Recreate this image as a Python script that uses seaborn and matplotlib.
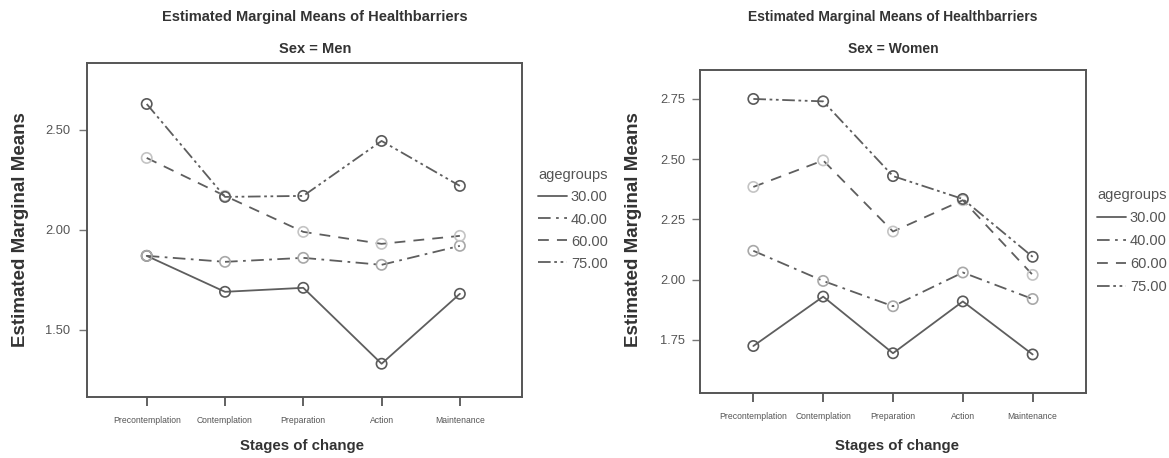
import matplotlib
matplotlib.use("Agg")
import matplotlib.pyplot as plt
from matplotlib.lines import Line2D
import numpy as np
import pandas as pd
import seaborn as sns

# Stages of change (x categories) and age groups
stages = ["Precontemplation", "Contemplation", "Preparation", "Action", "Maintenance"]
agegroups = ["30.00", "40.00", "60.00", "75.00"]

# Estimated marginal means, men
men_30 = [1.87, 1.69, 1.71, 1.33, 1.68]
men_40 = [1.87, 1.84, 1.86, 1.825, 1.92]
men_60 = [2.36, 2.17, 1.99, 1.93, 1.97]
men_75 = [2.63, 2.165, 2.17, 2.445, 2.22]

# Estimated marginal means, women
women_30 = [1.725, 1.93, 1.695, 1.91, 1.69]
women_40 = [2.12, 1.995, 1.89, 2.03, 1.92]
women_60 = [2.385, 2.495, 2.20, 2.33, 2.02]
women_75 = [2.75, 2.74, 2.43, 2.335, 2.095]

men_ticks = [1.50, 2.00, 2.50]
women_ticks = [1.75, 2.00, 2.25, 2.50, 2.75]

sns.set_theme(style="white")
plt.rcParams["font.family"] = ["Liberation Sans", "DejaVu Sans"]


def long_table(series):
    rows = []
    for grp, vals in zip(agegroups, series):
        for i, (st, v) in enumerate(zip(stages, vals)):
            rows.append({"stage": st, "pos": i, "agegroups": grp, "mean": v})
    return pd.DataFrame(rows)


line_col = "#5e5e5e"
marker_cols = {"30.00": "#5a5a5a", "40.00": "#a8a8a8", "60.00": "#c4c4c4", "75.00": "#5a5a5a"}
dash_map = {"30.00": "", "40.00": (7, 3, 1.5, 3), "60.00": (6, 4.5), "75.00": (7, 2, 1.5, 2, 1.5, 2)}

fig = plt.figure(figsize=(11.69, 4.58), dpi=100)
ax_m = fig.add_axes([0.0742, 0.1338, 0.3721, 0.7286])
ax_w = fig.add_axes([0.5988, 0.1419, 0.3302, 0.7052])


def draw(ax, df, ylim, yticks, xlim, ypad):
    sns.lineplot(data=df, x="pos", y="mean", style="agegroups", dashes=dash_map,
                 color=line_col, lw=1.3, ax=ax, legend=False, sort=False)
    for grp in agegroups:
        sub = df[df["agegroups"] == grp]
        sns.scatterplot(data=sub, x="pos", y="mean", ax=ax, marker="o", s=55,
                        facecolors="none", edgecolor=marker_cols[grp], linewidth=1.2,
                        legend=False, zorder=3)
    ax.set_xlim(*xlim)
    ax.set_ylim(*ylim)
    ax.set_xticks(range(len(stages)))
    ax.set_xticklabels(stages, fontsize=6.2, color="#555555")
    ax.set_yticks(yticks)
    ax.set_yticklabels([f"{t:.2f}" for t in yticks], fontsize=9.3, color="#555555")
    ax.tick_params(axis="x", bottom=True, direction="out", length=6.5, width=1.3,
                   color="#555555", pad=7.5)
    ax.tick_params(axis="y", left=True, direction="out", length=6, width=1,
                   color="#777777", pad=ypad)
    ax.set_xlabel("")
    ax.set_ylabel("")
    for sp in ax.spines.values():
        sp.set_color("#555555")
        sp.set_linewidth(1.4)
    handles = [Line2D([0], [0], color=line_col, lw=1.3,
                      dashes=dash_map[g] if dash_map[g] else (None, None),
                      linestyle="-" if not dash_map[g] else "--")
               for g in agegroups]
    return handles


def add_legend(ax, handles, anchor, spacing):
    leg = ax.legend(handles, agegroups, title="agegroups", loc="upper left",
                    bbox_to_anchor=anchor, frameon=False, fontsize=10.5, title_fontsize=10.5,
                    handlelength=2.0, handletextpad=0.25, labelspacing=spacing,
                    alignment="left", labelcolor="#555555", borderaxespad=0, borderpad=0)
    leg.get_title().set_color("#555555")


h = draw(ax_m, long_table([men_30, men_40, men_60, men_75]), (1.165, 2.835), men_ticks,
         (-0.766, 4.79), 6)
add_legend(ax_m, h, (1.0375, 0.684), 0.55)

h = draw(ax_w, long_table([women_30, women_40, women_60, women_75]), (1.53, 2.87), women_ticks,
         (-0.764, 4.764), 4.5)
add_legend(ax_w, h, (1.0285, 0.634), 0.62)

title = "Estimated Marginal Means of Healthbarriers"
tcol = "#333333"
fig.text(315 / 1169, 0.963, title, ha="center", va="center", fontsize=10.5,
         fontweight="bold", color=tcol)
fig.text(315 / 1169, 0.893, "Sex = Men", ha="center", va="center", fontsize=10.5,
         fontweight="bold", color=tcol)
fig.text(893 / 1169, 0.963, title, ha="center", va="center", fontsize=10,
         fontweight="bold", color=tcol)
fig.text(893 / 1169, 0.893, "Sex = Women", ha="center", va="center", fontsize=10,
         fontweight="bold", color=tcol)

fig.text(302 / 1169, 0.027, "Stages of change", ha="center", va="center", fontsize=10.8,
         fontweight="bold", color=tcol)
fig.text(897 / 1169, 0.027, "Stages of change", ha="center", va="center", fontsize=10.8,
         fontweight="bold", color=tcol)
fig.text(20.5 / 1169, 0.498, "Estimated Marginal Means", ha="center", va="center",
         rotation=90, fontsize=13.5, fontweight="bold", color=tcol)
fig.text(634 / 1169, 0.498, "Estimated Marginal Means", ha="center", va="center",
         rotation=90, fontsize=13.5, fontweight="bold", color=tcol)

fig.savefig("out.png", dpi=100, facecolor="white")
